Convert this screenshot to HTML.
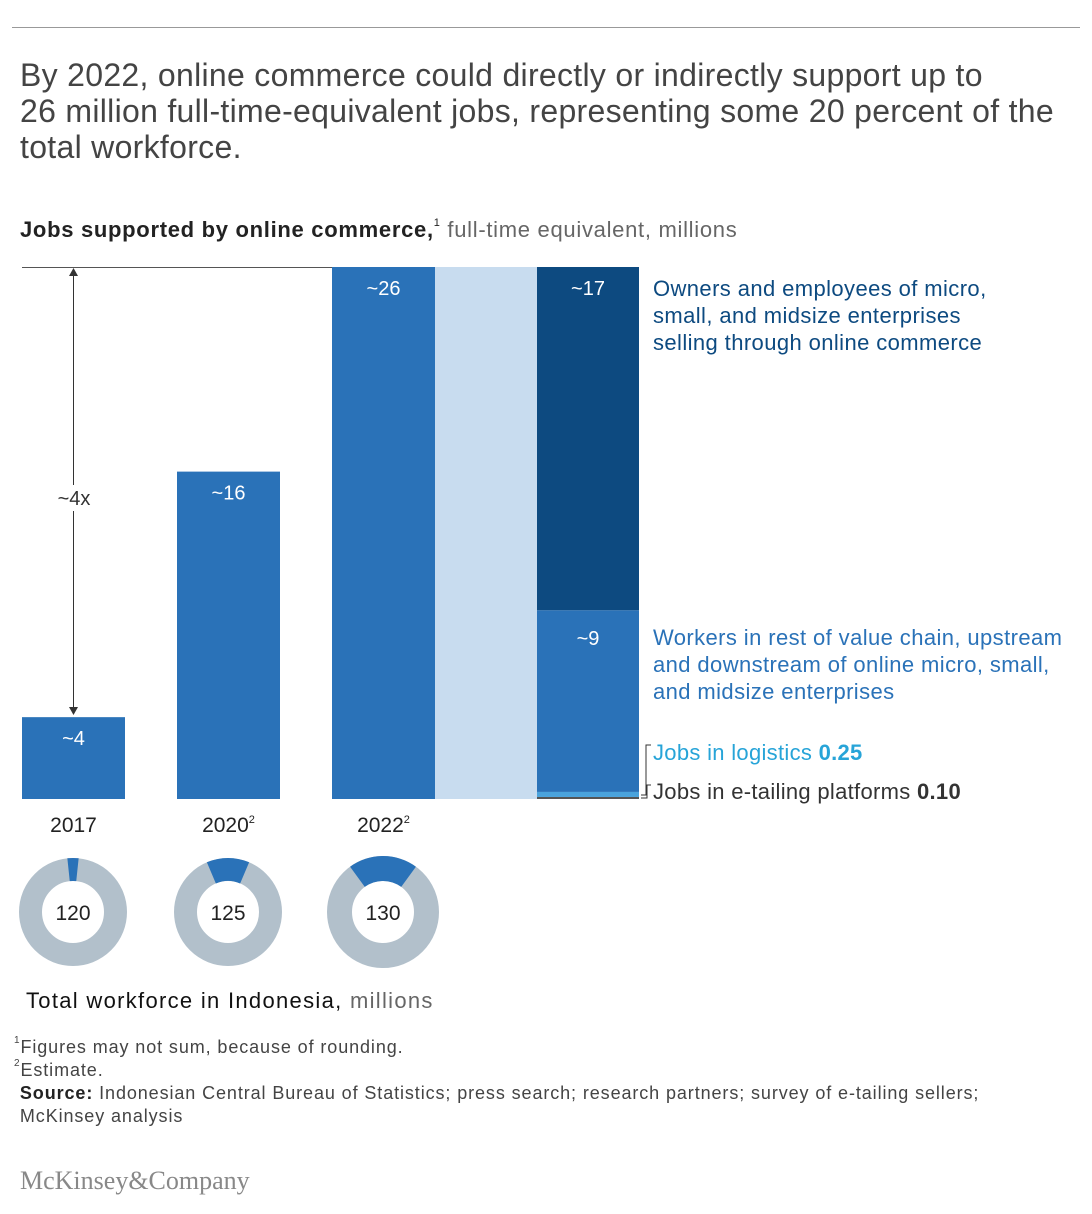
<!DOCTYPE html>
<html><head><meta charset="utf-8">
<style>
body{margin:0;background:#fff;font-family:"Liberation Sans",sans-serif;}
#wrap{position:relative;width:1092px;height:1214px;overflow:hidden;}
.t{position:absolute;white-space:nowrap;}
sup{line-height:0;vertical-align:top;position:relative;top:0.5em;}
</style></head>
<body>
<div id="wrap">
<div style="position:absolute;left:12px;top:27px;width:1068px;height:1px;background:#999"></div>
<div class="t" style="left:20px;top:57px;font-size:32px;letter-spacing:0.3px;line-height:36px;color:#444">By 2022, online commerce could directly or indirectly support up to<br>26 million full-time-equivalent jobs, representing some 20 percent of the<br>total workforce.</div>
<div class="t" style="left:20px;top:217px;font-size:22px;letter-spacing:0.7px;color:#222"><b>Jobs supported by online commerce,</b><sup style="font-size:11px">1</sup> <span style="color:#666">full-time equivalent, millions</span></div>
<svg id="chart" width="1092" height="1214" style="position:absolute;left:0;top:0"></svg>
<div class="t" style="left:26px;top:988px;font-size:22px;letter-spacing:1.3px;color:#222"><span style="color:#111">Total workforce in Indonesia,</span> <span style="color:#666">millions</span></div>
<div class="t" style="left:14px;top:1036px;font-size:18px;letter-spacing:0.9px;line-height:23px;color:#444"><sup style="font-size:10px">1</sup>Figures may not sum, because of rounding.<br><sup style="font-size:10px">2</sup>Estimate.<br>&nbsp;<b style="color:#222">Source:</b> Indonesian Central Bureau of Statistics; press search; research partners; survey of e-tailing sellers;<br>&nbsp;McKinsey analysis</div>
<div class="t" style="left:20px;top:1166px;font-family:'Liberation Serif',serif;font-size:26px;color:#888">McKinsey&amp;Company</div>
</div>
<script>
const years=["2017","2020","2022"];
const yearSup=["","2","2"];
const jobs=[4,16,26];
const jobLabels=["~4","~16","~26"];
const workforce=[120,125,130];
const stackValues=[0.10,0.25,9,17];
const stackLabels=["","","~9","~17"];
const svg=document.getElementById('chart');
const NS='http://www.w3.org/2000/svg';
function mk(tag,attrs,name){const e=document.createElementNS(NS,tag);for(const k in attrs)e.setAttribute(k,attrs[k]);


svg.appendChild(e);return e;}
const base=799,top0=267,maxV=26;
const yS=v=>base-(v/maxV)*(base-top0);
const hS=v=>(v/maxV)*(base-top0);
const barX=[22,177,332],bw=103;
mk('line',{x1:22,x2:435,y1:267.5,y2:267.5,stroke:'#555','stroke-width':1},'top-reference-line');
mk('rect',{x:435,y:yS(jobs[2]),width:102,height:hS(jobs[2]),fill:'#c8dcef'},'connector-band');
jobs.forEach((v,i)=>{
 mk('rect',{x:barX[i],y:yS(v),width:bw,height:hS(v),fill:'#2a72b8'},'bar-'+years[i]);
 const t=mk('text',{x:barX[i]+bw/2,y:yS(v)+28,'text-anchor':'middle',fill:'#fff','font-size':20,'font-family':'Liberation Sans'},'bar-value-'+years[i]);t.textContent=jobLabels[i];
 const yl=mk('text',{x:barX[i]+bw/2,y:832,'text-anchor':'middle',fill:'#222','font-size':21,'font-family':'Liberation Sans'},'year-label-'+years[i]);
 yl.textContent=years[i];
 if(yearSup[i]){const ts=document.createElementNS(NS,'tspan');ts.setAttribute('font-size',11);ts.setAttribute('dy',-9);ts.textContent=yearSup[i];yl.appendChild(ts);}
});
const tot=stackValues.reduce((a,b)=>a+b,0);
const minH=[2,4,0,0];
const cols=['#555','#4aa3dc','#2a72b8','#0d4a80'];
const sNames=['stack-etailing','stack-logistics','stack-value-chain','stack-owners'];
const labOff=[0,0,35,28];
let cur=base;
stackValues.forEach((v,i)=>{
 let h=Math.max(minH[i],v/tot*(base-top0));
 if(i===3)h=cur-top0;
 mk('rect',{x:537,y:cur-h,width:102,height:h,fill:cols[i]},sNames[i]);
 if(stackLabels[i]){const t=mk('text',{x:588,y:cur-h+labOff[i],'text-anchor':'middle',fill:'#fff','font-size':20,'font-family':'Liberation Sans'},sNames[i]+'-label');t.textContent=stackLabels[i];}
 cur-=h;
});
mk('line',{x1:73.5,x2:73.5,y1:274,y2:710,stroke:'#333','stroke-width':1},'growth-arrow-line');
mk('path',{d:'M69,276 L73.5,268 L78,276Z',fill:'#333'},'growth-arrow-head-up');
mk('path',{d:'M69,707 L73.5,715 L78,707Z',fill:'#333'},'growth-arrow-head-down');
mk('rect',{x:55,y:485,width:38,height:26,fill:'#fff'},'growth-label-bg');
const gl=mk('text',{x:74,y:505,'text-anchor':'middle',fill:'#333','font-size':20,'font-family':'Liberation Sans'},'growth-label');gl.textContent='~4x';
function lines(arr,x,y,col,name){const t=mk('text',{x:x,y:y,fill:col,'font-size':22,'letter-spacing':0.4,'font-family':'Liberation Sans'},name);
arr.forEach((s,i)=>{const ts=document.createElementNS(NS,'tspan');ts.setAttribute('x',x);ts.setAttribute('dy',i?27:0);ts.textContent=s;t.appendChild(ts);});}
lines(["Owners and employees of micro,","small, and midsize enterprises","selling through online commerce"],653,296,'#0d4a80','owners-label');
lines(["Workers in rest of value chain, upstream","and downstream of online micro, small,","and midsize enterprises"],653,645,'#2a72b8','value-chain-label');
const lg=mk('text',{x:653,y:760,fill:'#27a4d8','font-size':22,'letter-spacing':0.3,'font-family':'Liberation Sans'},'logistics-label');lg.innerHTML='Jobs in logistics <tspan font-weight="bold">0.25</tspan>';
const et=mk('text',{x:653,y:799,fill:'#333','font-size':22,'letter-spacing':0.3,'font-family':'Liberation Sans'},'etailing-label');et.innerHTML='Jobs in e-tailing platforms <tspan font-weight="bold">0.10</tspan>';
mk('path',{d:'M651,745 L646,745 L646,795 L641,795',fill:'none',stroke:'#333','stroke-width':1},'logistics-bracket');
mk('path',{d:'M651,785 L647,785 L647,798 L641,798',fill:'none',stroke:'#333','stroke-width':1},'etailing-bracket');
const dcx=[73,228,383],dro=[54,54,56],dri=31;
function arc(cx,cy,r0,r1,a0,a1){const p=(r,a)=>[cx+r*Math.sin(a),cy-r*Math.cos(a)];const l=(a1-a0)>Math.PI?1:0;
const [x0,y0]=p(r1,a0),[x1,y1]=p(r1,a1),[x2,y2]=p(r0,a1),[x3,y3]=p(r0,a0);
return `M${x0},${y0} A${r1},${r1} 0 ${l} 1 ${x1},${y1} L${x2},${y2} A${r0},${r0} 0 ${l} 0 ${x3},${y3}Z`;}
workforce.forEach((w,i)=>{
 const cy=912,ro=dro[i];
 mk('circle',{cx:dcx[i],cy:cy,r:(ro+dri)/2,fill:'none',stroke:'#b2c0cb','stroke-width':ro-dri},'donut-'+years[i]);
 const a=jobs[i]/w*Math.PI;
 mk('path',{d:arc(dcx[i],cy,dri,ro,-a,a),fill:'#2a72b8'},'donut-share-'+years[i]);
 const t=mk('text',{x:dcx[i],y:cy+8,'text-anchor':'middle',fill:'#222','font-size':21,'font-family':'Liberation Sans'},'donut-value-'+years[i]);t.textContent=w;
});
</script>
</body></html>
